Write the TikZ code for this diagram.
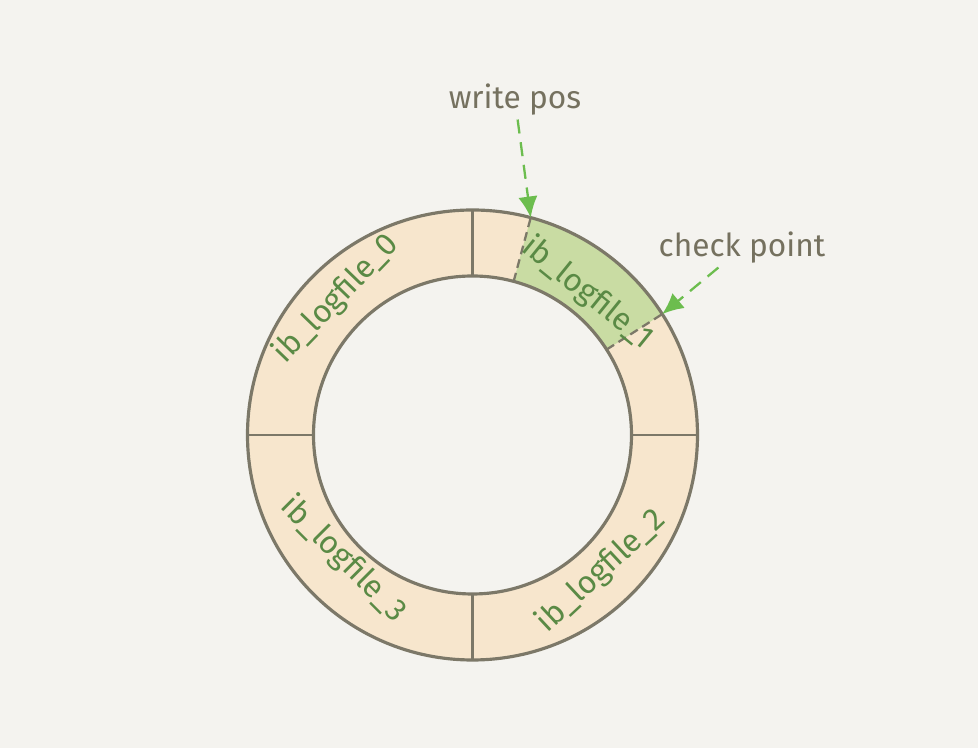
\documentclass[tikz,border=0pt]{standalone}
\usepackage{fontspec}
\setmainfont{Fira Sans}
\usepackage{tikz}
\usetikzlibrary{arrows.meta, positioning, calc}

\definecolor{paper}{HTML}{F4F3EF}
\definecolor{peach}{HTML}{F7E6CD}
\definecolor{lime}{HTML}{C9DCA3}
\definecolor{edge}{HTML}{7C7868}
\definecolor{leaf}{HTML}{5A8A45}
\definecolor{ink}{HTML}{75715F}
\definecolor{mark}{HTML}{6CBD4E}

\begin{document}
\begin{tikzpicture}[
    ring/.style={draw=edge, line width=1.8pt},
    divider/.style={draw=edge, line width=1.3pt},
    part/.style={text=leaf, font=\fontsize{18}{21}\selectfont, inner sep=0pt},
    callout/.style={text=ink, font=\fontsize{18}{21}\selectfont, inner sep=2pt},
    pointer/.style={draw=mark, line width=1.3pt, dash pattern=on 8pt off 5pt, -{Latex[length=12pt, width=11pt]}},
    >=Latex,
]
    \fill[paper] (-9.45,-6.26) rectangle (10.11,8.7);
    \useasboundingbox (-9.45,-6.26) rectangle (10.11,8.7);

    % the log ring
    \fill[peach, even odd rule] (0,0) circle (4.5) (0,0) circle (3.18);
    \fill[lime] (75:4.5) arc (75:32.5:4.5) -- (32.5:3.18) arc (32.5:75:3.18) -- cycle;
    \foreach \a in {0,90,180,270}
        \draw[divider] (\a:3.18) -- (\a:4.5);
    \foreach \a in {75,32.5}
        \draw[divider, dash pattern=on 5pt off 3pt] (\a:3.18) -- (\a:4.5);
    \draw[ring] (0,0) circle (4.5);
    \draw[ring] (0,0) circle (3.18);

    \coordinate (wpos) at (75:4.5);
    \coordinate (cpt)  at (32.5:4.5);

    \node[part, rotate=46]  (log0) at (135:3.85) {ib\_logfile\_0};
    \node[part, rotate=-39] (log1) at (51:3.65)  {ib\_logfile\_1};
    \node[part, rotate=43]  (log2) at (-46.5:3.75) {ib\_logfile\_2};
    \node[part, rotate=-45] (log3) at (224:3.58) {ib\_logfile\_3};

    % markers
    \node[callout] (wlabel) at (0.85,6.7)  {write pos};
    \node[callout] (clabel) at (5.39,3.74) {check point};

    \draw[pointer] (wlabel) -- (wpos);
    \draw[pointer] (clabel) -- (cpt);
\end{tikzpicture}
\end{document}
